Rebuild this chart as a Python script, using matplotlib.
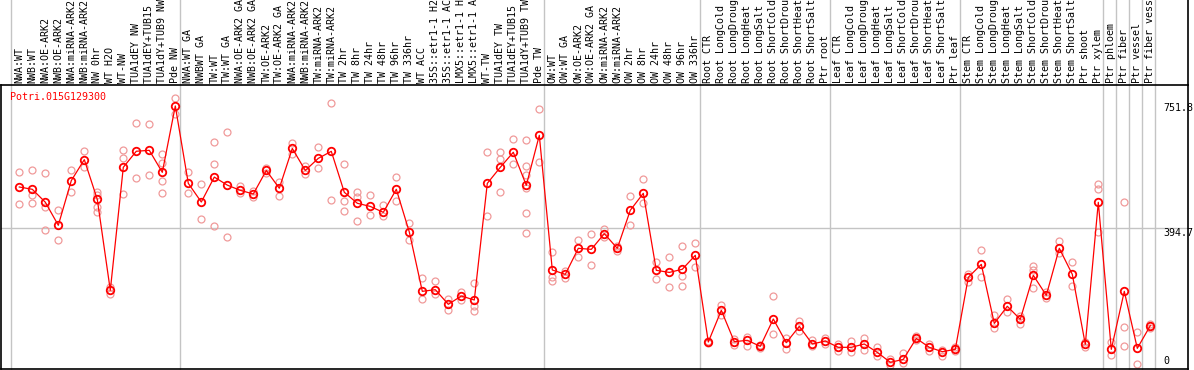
import matplotlib
matplotlib.use("Agg")
import matplotlib.pyplot as plt
import matplotlib.transforms as mtransforms

gene = "Potri.015G129300"

samples = [
    "NWA:WT", "NWB:WT", "NWA:OE-ARK2", "NWB:OE-ARK2", "NWA:miRNA-ARK2",
    "NWB:miRNA-ARK2", "NW 0hr", "WT H2O", "WT-NW", "TUA1dEY NW",
    "TUA1dEY+TUB15 NW", "TUA1dY+TUB9 NW", "Pde NW",
    "NWA:WT GA", "NWBWT GA", "TW:WT", "TW:WT GA", "NWA:OE-ARK2 GA",
    "NWB:OE-ARK2 GA", "TW:OE-ARK2", "TW:OE-ARK2 GA", "NWA:miRNA-ARK2",
    "NWB:miRNA-ARK2", "TW:miRNA-ARK2", "TW:miRNA-ARK2", "TW 2hr", "TW 8hr",
    "TW 24hr", "TW 48hr", "TW 96hr", "TW 336hr", "WT ACC",
    "35S::etr1-1 H2O", "35S::etr1-1 ACC", "LMX5::etr1-1 H2O",
    "LMX5::etr1-1 ACC", "WT-TW", "TUA1dEY TW", "TUA1dEY+TUB15 TW",
    "TUA1dY+TUB9 TW", "Pde TW",
    "OW:WT", "OW:WT GA", "OW:OE-ARK2", "OW:OE-ARK2 GA", "OW:miRNA-ARK2",
    "OW:miRNA-ARK2", "OW 2hr", "OW 8hr", "OW 24hr", "OW 48hr", "OW 96hr",
    "OW 336hr",
    "Root CTR", "Root LongCold", "Root LongDrought", "Root LongHeat",
    "Root LongSalt", "Root ShortCold", "Root ShortDrought", "Root ShortHeat",
    "Root ShortSalt", "Ptr root",
    "Leaf CTR", "Leaf LongCold", "Leaf LongDrought", "Leaf LongHeat",
    "Leaf LongSalt", "Leaf ShortCold", "Leaf ShortDrought", "Leaf ShortHeat",
    "Leaf ShortSalt", "Ptr leaf",
    "Stem CTR", "Stem LongCold", "Stem LongDrought", "Stem LongHeat",
    "Stem LongSalt", "Stem ShortCold", "Stem ShortDrought", "Stem ShortHeat",
    "Stem ShortSalt", "Ptr shoot", "Ptr xylem",
    "Ptr phloem", "Ptr fiber", "Ptr vessel", "Ptr fiber vessel",
]

means = [
    512.6, 506, 469, 403, 531, 591, 477, 216.7, 569, 615, 617.6, 554.6, 744.6,
    523, 469.6, 541, 518, 503, 492.6, 560, 509, 623, 560, 594.7, 614.7, 497.5,
    466, 457, 440, 506, 383.7, 213.8, 218.6, 176.6, 200.5, 189, 523, 569, 612,
    517.4, 660.6,
    275, 262.5, 337, 334, 379, 337, 446, 494.5, 274, 268, 277, 317,
    68.7, 159.4, 69.7, 73.5, 56.3, 134.6, 66.8, 113.6, 63, 71.6,
    53.5, 53.5, 63, 39, 10.5, 19, 79, 53.5, 41, 47.7,
    254, 291, 122, 171, 133.6, 259.6, 202.4, 337, 262.5, 62, 468.7,
    47.7, 213.8, 50.6, 115.5,
]

replicates = [
    [556, 463], [560, 489, 466], [554, 456, 389], [446, 360], [560, 499],
    [615, 571], [499, 490, 456, 440], [226, 207], [618, 597, 492], [695, 537],
    [692, 546], [606, 580, 531, 495], [767, 722],
    [555, 495], [520, 420], [641, 578, 400], [669, 369], [516, 495],
    [500, 485], [567, 553], [528, 488], [638, 607], [573, 550], [627, 566],
    [752, 474], [578, 472, 443], [498, 485, 414], [489, 432], [460, 429],
    [540, 472], [409, 360], [252, 191], [242, 205], [193, 161], [211, 189],
    [238, 173, 158], [612, 429], [612, 592, 498], [649, 578],
    [646, 573, 547, 509, 437, 380], [735, 583],
    [326, 255, 242], [272, 253], [360, 313], [378, 288], [392, 369],
    [345, 329], [486, 403], [535, 466], [297, 248], [311, 226],
    [343, 257, 228], [351, 283],
    [72, 65], [174, 146], [78, 60], [84, 58], [60, 52], [200, 92], [79, 49],
    [129, 100], [74, 58], [81, 64],
    [62, 43], [72, 41], [79, 46], [53, 30], [20, 3], [37, 9], [87, 74],
    [62, 44], [30, 46], [53, 43],
    [264, 240], [332, 254], [146, 110], [192, 155], [144, 119],
    [285, 275, 222], [211, 194], [358, 323], [297, 230], [70, 55],
    [520, 507, 385],
    [68, 32], [469, 111, 57], [96, 5], [121, 110],
]

# last sample index of each block (a grey divider follows it)
group_ends = [-1, 12, 40, 52, 62, 72, 83, 84, 85, 86, 87]
y_marks = [751.8, 394.7, 0]

MONO = "DejaVu Sans Mono"
FS = 7.2
GRID = "#c4c4c4"

W, H = 1194, 370
fig = plt.figure(figsize=(W / 100, H / 100), dpi=100)
fig.patch.set_facecolor("white")
ax = fig.add_axes([1 / W, 1 / H, 1187 / W, 284 / H])
ax.set_xlim(-1.408, 89.9)
ax.set_ylim(-8.6, 804.7)
ax.set_xticks([])
ax.set_yticks([])
for spine in ax.spines.values():
    spine.set_color("black")
    spine.set_linewidth(1.2)

x_data_y_axes = mtransforms.blended_transform_factory(ax.transData, ax.transAxes)
x_axes_y_data = mtransforms.blended_transform_factory(ax.transAxes, ax.transData)
top = 1 + 85 / 284

# grey dividers run up through the label strip
for g in group_ends:
    ax.plot([g + 0.35, g + 0.35], [0, top], transform=x_data_y_axes,
            color=GRID, lw=1.0, clip_on=False, zorder=0)
ax.plot([1, 1], [1, top], transform=ax.transAxes, color="black",
        lw=1.2, clip_on=False)
ax.axhline(394.7, color=GRID, lw=1.0, zorder=0)

# replicate points
rx, ry = [], []
for i, reps in enumerate(replicates):
    rx += [i] * len(reps)
    ry += reps
ax.plot(rx, ry, linestyle="none", marker="o", ms=5.0, mfc="none",
        mec="#f09a9a", mew=0.9, zorder=2)

xs = list(range(len(means)))
ax.plot(xs, means, color="#ff0000", lw=0.9, zorder=3)
ax.plot(xs, means, linestyle="none", marker="o", ms=5.4, mfc="none",
        mec="#ff0000", mew=1.3, zorder=4)

for i, name in enumerate(samples):
    ax.text(i, 1 + 2 / 284, name, transform=x_data_y_axes, rotation=90,
            ha="center", va="bottom", fontsize=FS, family=MONO,
            color="black", clip_on=False)

for v in y_marks:
    ax.text(0.979, v, f"{v:g}", transform=x_axes_y_data, fontsize=FS,
            family=MONO, ha="left", va="top" if v > 0 else "bottom")

ax.text(0.0076, 0.975, gene, transform=ax.transAxes, color="#ff0000",
        fontsize=FS, family=MONO, ha="left", va="top")

fig.savefig("out.png", dpi=100, facecolor="white")
